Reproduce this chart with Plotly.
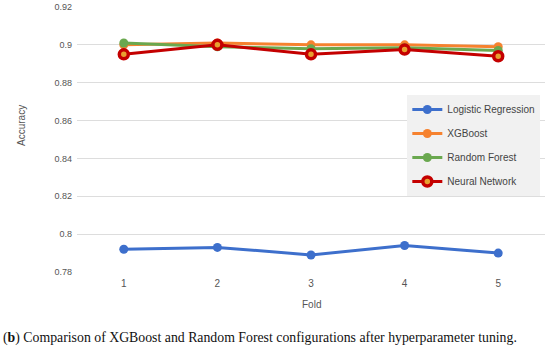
import plotly.graph_objects as go

folds = [1, 2, 3, 4, 5]
series_names = ["Logistic Regression", "XGBoost", "Random Forest", "Neural Network"]
logistic = [0.792, 0.793, 0.789, 0.794, 0.790]
xgboost = [0.900, 0.901, 0.900, 0.900, 0.899]
random_forest = [0.901, 0.899, 0.898, 0.8985, 0.897]
neural_net = [0.895, 0.900, 0.895, 0.8975, 0.894]
y_ticks = [0.78, 0.8, 0.82, 0.84, 0.86, 0.88, 0.9, 0.92]
y_ticklabels = ["0.78", "0.8", "0.82", "0.84", "0.86", "0.88", "0.9", "0.92"]

colors = ["#3d6fcc", "#f6822f", "#6aa84f", "#c40000"]
values = [logistic, xgboost, random_forest, neural_net]

fig = go.Figure()
for name, vals, col in zip(series_names, values, colors):
    marker = dict(size=9, color=col)
    if name == "Neural Network":
        marker = dict(size=9, color="#e8a030", line=dict(color=col, width=3.5))
    fig.add_trace(go.Scatter(
        x=folds, y=vals, name=name, mode="lines+markers",
        line=dict(color=col, width=3), marker=marker,
        legendgroup=name,
    ))

fig.update_layout(
    width=550, height=346,
    margin=dict(l=77, r=5, t=7, b=74, autoexpand=False),
    paper_bgcolor="white", plot_bgcolor="white",
    font=dict(family="Arial, Liberation Sans, sans-serif", size=10, color="#555"),
    xaxis=dict(
        range=[0.5, 5.5], tickvals=folds, ticktext=[str(f) for f in folds],
        showgrid=False, zeroline=False, showline=False, ticks="",
        ticklabelstandoff=4,
        tickfont=dict(size=10, color="#555"), automargin=False,
    ),
    yaxis=dict(
        range=[0.78, 0.92], tickvals=y_ticks, ticktext=y_ticklabels,
        showgrid=True, gridcolor="#dddddd", gridwidth=1, zeroline=False,
        showline=False, ticks="", ticklabelstandoff=4,
        tickfont=dict(size=9, color="#555"), automargin=False,
    ),
    legend=dict(
        x=0.99, y=0.668, xanchor="right", yanchor="top",
        bgcolor="#f1f1f1", borderwidth=0,
        font=dict(size=10, color="#444"),
        traceorder="grouped", tracegroupgap=5, itemwidth=30,
    ),
    annotations=[
        dict(x=-0.1175, y=0.551, xref="paper", yref="paper", xanchor="center", yanchor="middle",
             text="Accuracy", textangle=-90, showarrow=False,
             font=dict(size=10, color="#555")),
        dict(x=0.5, y=-0.121, xref="paper", yref="paper", xanchor="center", yanchor="middle",
             text="Fold", showarrow=False, font=dict(size=10, color="#555")),
        dict(x=0, y=-0.249, xref="paper", yref="paper", xanchor="left", yanchor="middle",
             text="(<b>b</b>) Comparison of XGBoost and Random Forest configurations after hyperparameter tuning.",
             showarrow=False, xshift=-76,
             font=dict(family="Liberation Serif, DejaVu Serif, serif", size=13.8, color="#111")),
    ],
)

fig.write_html("out.html", config={"displayModeBar": False},
               post_script="document.body.style.margin='0';document.body.style.padding='0';")
